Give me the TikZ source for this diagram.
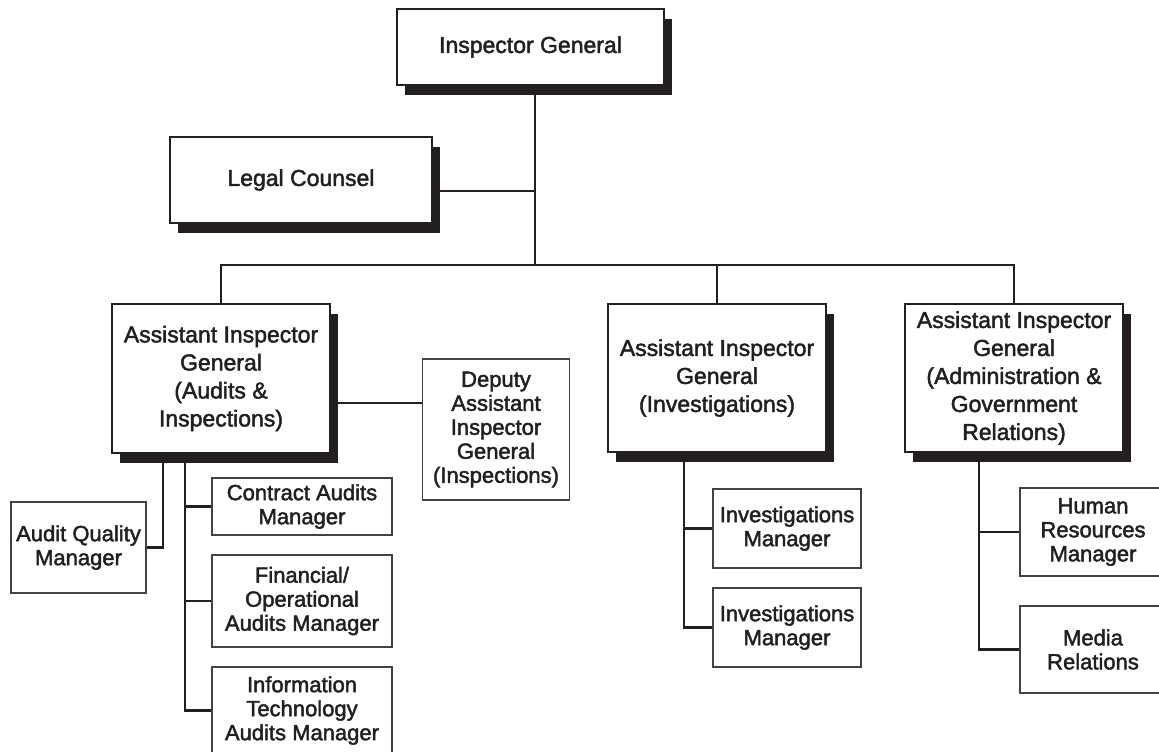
\documentclass[tikz,border=0pt]{standalone}
\usepackage{fontspec}
\setmainfont{Liberation Sans}[FakeBold=2]
\usetikzlibrary{shadows}
\definecolor{ink}{HTML}{231F20}
\begin{document}
\begin{tikzpicture}[
  x=1pt, y=-1pt,
  bigbox/.style={draw=ink, line width=2.8pt, fill=white, align=center, inner sep=0pt,
    font=\fontsize{23}{28}\selectfont, text=ink,
    general shadow={fill=ink, shadow xshift=8pt, shadow yshift=-10pt}},
  smallbox/.style={draw=ink!85, line width=1.4pt, fill=white, align=center, inner sep=0pt,
    font=\fontsize{22}{24}\selectfont, text=ink},
  conn/.style={draw=ink, line width=2.6pt}
]
\useasboundingbox (0,0) rectangle (1159,752);

% main boxes
\node[bigbox, minimum width=267pt, minimum height=76pt] (ig) at (530.5,47) {Inspector General};
\node[bigbox, minimum width=262pt, minimum height=86pt] (lc) at (301,180) {Legal Counsel};
\node[bigbox, minimum width=218pt, minimum height=149pt] (aiga) at (221,378.5)
  {Assistant Inspector\\General\\(Audits \&\\Inspections)};
\node[bigbox, minimum width=218pt, minimum height=148pt] (aigi) at (717,378)
  {Assistant Inspector\\General\\(Investigations)};
\node[bigbox, minimum width=218pt, minimum height=148pt] (aigadm) at (1014,378)
  {Assistant Inspector\\General\\(Administration \&\\Government\\Relations)};

% small boxes
\node[smallbox, minimum width=147pt, minimum height=141pt] (deputy) at (496,429.5)
  {Deputy\\Assistant\\Inspector\\General\\(Inspections)};
\node[smallbox, minimum width=135pt, minimum height=91pt] (aqm) at (78.5,547.5)
  {Audit Quality\\Manager};
\node[smallbox, minimum width=180pt, minimum height=57pt] (cam) at (302,506.5)
  {Contract Audits\\Manager};
\node[smallbox, minimum width=180pt, minimum height=92pt] (foam) at (302,601)
  {Financial/\\Operational\\Audits Manager};
\node[smallbox, minimum width=180pt, minimum height=87pt] (itam) at (302,710.5)
  {Information\\Technology\\Audits Manager};
\node[smallbox, minimum width=148pt, minimum height=79pt] (im1) at (787,528.5)
  {Investigations\\Manager};
\node[smallbox, minimum width=148pt, minimum height=79pt] (im2) at (787,627.5)
  {Investigations\\Manager};
\node[smallbox, minimum width=146pt, minimum height=88pt] (hr) at (1093,532)
  {Human\\Resources\\Manager};
\node[smallbox, minimum width=146pt, minimum height=87pt] (media) at (1093,649.5)
  {Media\\Relations};

% junction coordinates
\coordinate (j) at (535,265);
\coordinate (lcj) at (535,191);
\coordinate (dj) at (0,403);
\coordinate (aqv) at (163,0);
\coordinate (amv) at (185,0);
\coordinate (iv) at (684,0);
\coordinate (av) at (979,0);

% connectors
\draw[conn] (ig.south -| j) -- (j);
\draw[conn] (lc.east |- lcj) -- (lcj);
\draw[conn] (aiga.north) -- (aiga.north |- j) -- (aigadm.north |- j) -- (aigadm.north);
\draw[conn] (aigi.north |- j) -- (aigi.north);
\draw[conn] (aiga.east |- dj) -- (deputy.west |- dj);

\draw[conn] (aiga.south -| aqv) |- (aqm.east);
\draw[conn] (aiga.south -| amv) |- (itam.west);
\draw[conn] (cam.west -| amv) -- (cam.west);
\draw[conn] (foam.west -| amv) -- (foam.west);

\draw[conn] (aigi.south -| iv) |- (im2.west);
\draw[conn] (im1.west -| iv) -- (im1.west);

\draw[conn] (aigadm.south -| av) |- (media.west);
\draw[conn] (hr.west -| av) -- (hr.west);
\end{tikzpicture}
\end{document}
